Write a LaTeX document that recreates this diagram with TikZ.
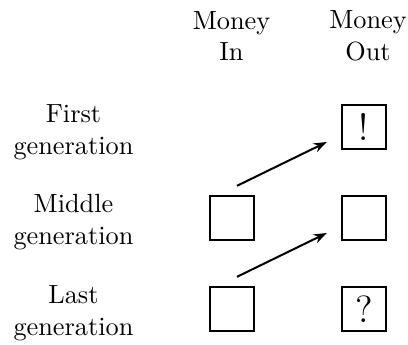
\documentclass[tikz,border=0pt]{standalone}
\usetikzlibrary{calc,arrows.meta}
\begin{document}
\begin{tikzpicture}[x=0.3802pt,y=-0.3802pt,
  cell/.style={draw,line width=0.76pt,minimum size=16.5pt,inner sep=0pt,font=\Large},
  rowlabel/.style={align=center,inner sep=0pt},
  flow/.style={-{Stealth[length=5pt,width=3.6pt]},line width=0.76pt}]
  \useasboundingbox (0,0) rectangle (408,344);

  % column headings
  \node[rowlabel] (hin)  at (231.5,35.8) {Money\\In};
  \node[rowlabel] (hout) at (368,35.8) {Money\\Out};

  % generation labels
  \node[rowlabel] (gfirst) at (73.5,132.3) {First\\generation};
  \node[rowlabel] (gmid)   at (73.5,222.2) {Middle\\generation};
  \node[rowlabel] (glast)  at (73.5,313.3) {Last\\generation};

  % money boxes
  \node[cell] (fo) at (364,127) {!};
  \node[cell] (mi) at (232,218) {};
  \node[cell] (mo) at (364,218) {};
  \node[cell] (li) at (232,309) {};
  \node[cell] (lo) at (364,309) {?};

  % transfers between generations
  \coordinate (mstart) at ($(mi.north)+(5,-9.5)$);
  \coordinate (fend)   at ($(fo.west)+(-14.5,15)$);
  \coordinate (lstart) at ($(li.north)+(5,-9.5)$);
  \coordinate (mend)   at ($(mo.west)+(-14.5,15)$);
  \draw[flow] (mstart) -- (fend);
  \draw[flow] (lstart) -- (mend);
\end{tikzpicture}
\end{document}
